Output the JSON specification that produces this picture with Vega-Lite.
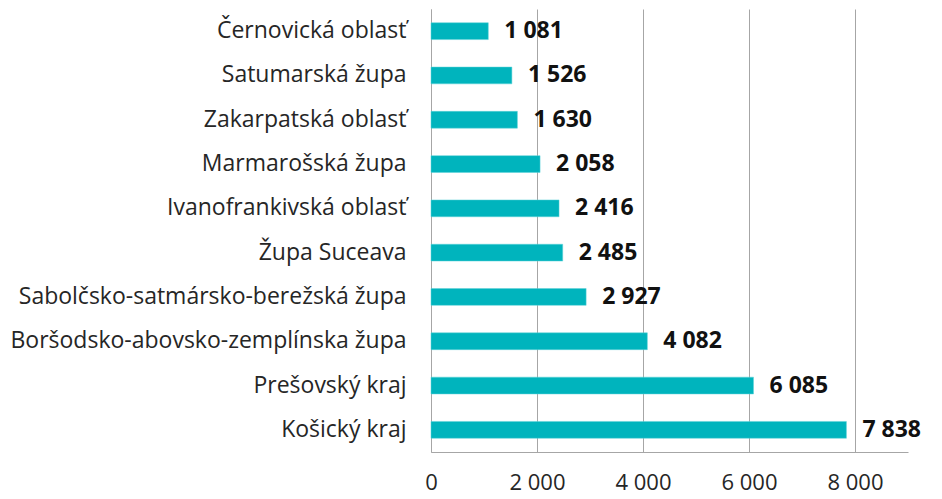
{
  "$schema": "https://vega.github.io/schema/vega-lite/v6.json",
  "width": 477,
  "height": 443,
  "autosize": "none",
  "padding": {"left": 431, "top": 9, "right": 34, "bottom": 47},
  "background": "white",
  "config": {
    "locale": {"number": {"decimal": ",", "thousands": " ", "grouping": [3], "currency": ["", ""]}},
    "view": {"stroke": null},
    "font": "Open Sans"
  },
  "data": {
    "values": [
      {"region": "Černovická oblasť", "value": 1081},
      {"region": "Satumarská župa", "value": 1526},
      {"region": "Zakarpatská oblasť", "value": 1630},
      {"region": "Marmarošská župa", "value": 2058},
      {"region": "Ivanofrankivská oblasť", "value": 2416},
      {"region": "Župa Suceava", "value": 2485},
      {"region": "Sabolčsko-satmársko-berežská župa", "value": 2927},
      {"region": "Boršodsko-abovsko-zemplínska župa", "value": 4082},
      {"region": "Prešovský kraj", "value": 6085},
      {"region": "Košický kraj", "value": 7838}
    ]
  },
  "encoding": {
    "y": {
      "field": "region",
      "type": "nominal",
      "sort": {"field": "value", "order": "ascending"},
      "scale": {"paddingInner": 0.62, "paddingOuter": 0.31},
      "axis": {
        "title": null,
        "ticks": false,
        "labelPadding": 25,
        "labelFontSize": 23,
        "labelColor": "#262626",
        "labelFont": "Open Sans",
        "labelLimit": 0,
        "domainColor": "#a6a6a6",
        "domainWidth": 1
      }
    },
    "x": {
      "field": "value",
      "type": "quantitative",
      "scale": {"domain": [0, 9000], "nice": false},
      "axis": {
        "title": null,
        "values": [0, 2000, 4000, 6000, 8000],
        "format": ",d",
        "ticks": false,
        "labelPadding": 20,
        "labelFontSize": 22,
        "labelColor": "#262626",
        "labelFont": "Open Sans",
        "labelFlush": false,
        "domainColor": "#a6a6a6",
        "grid": true,
        "gridColor": "#a6a6a6",
        "gridWidth": 1
      }
    }
  },
  "layer": [
    {
      "mark": {"type": "bar", "color": "#00b4bd", "stroke": "#5fd3d9", "strokeWidth": 0.5}
    },
    {
      "mark": {"type": "text", "align": "left", "baseline": "middle", "dx": 16, "fontSize": 23, "fontWeight": "bold", "color": "#111111"},
      "encoding": {
        "text": {"field": "value", "type": "quantitative", "format": ",d"}
      }
    }
  ]
}
